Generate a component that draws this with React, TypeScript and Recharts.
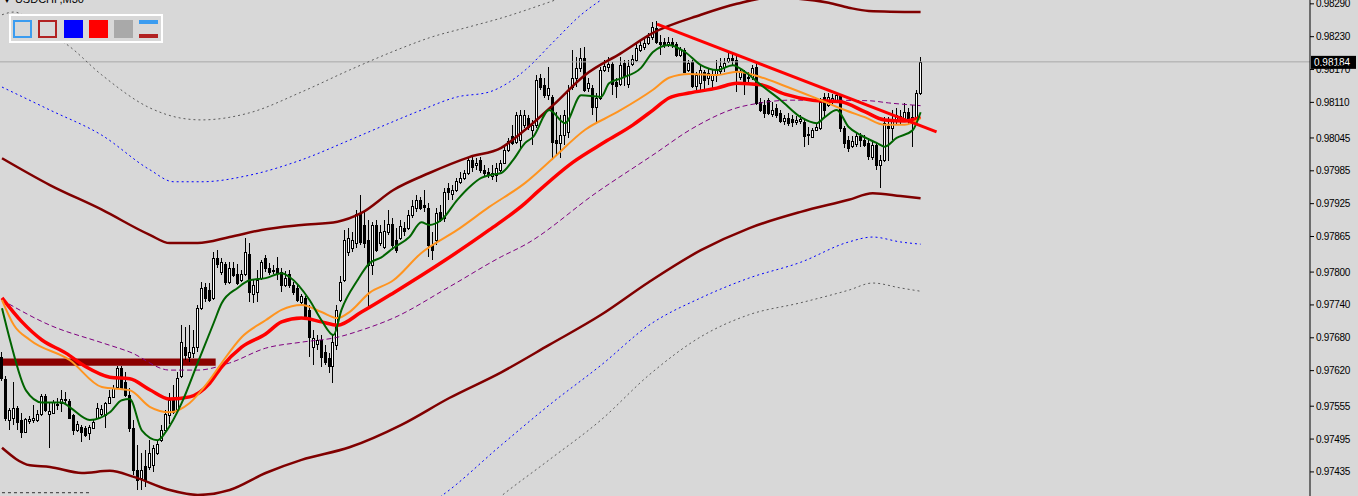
import { ComposedChart, Bar, Line, XAxis, YAxis, ReferenceLine, ReferenceArea } from 'recharts';

// Prices are kept in points above 0.97000 (1184 -> 0.98184)
const BASE = 0.97;
const BG = '#d8d8d8';

// USDCHF M30 bars, oldest first: [open, high, low, close]
const CANDLES = [
  [645, 654, 601, 606], [605, 610, 528, 533], [530, 552, 511, 548], [533, 599, 520, 552], [552, 555, 511, 526],
  [530, 542, 497, 508], [508, 533, 506, 531], [528, 537, 522, 531], [530, 557, 524, 533], [530, 548, 526, 541],
  [541, 577, 537, 573], [573, 577, 544, 548], [541, 561, 478, 546], [542, 566, 541, 562], [559, 570, 548, 557],
  [561, 584, 544, 568], [566, 581, 561, 568], [564, 568, 531, 533], [539, 541, 502, 511], [511, 528, 508, 522],
  [517, 520, 489, 508], [515, 519, 499, 502], [506, 520, 493, 517], [515, 530, 513, 526], [533, 561, 531, 552],
  [541, 557, 537, 550], [539, 562, 515, 561], [561, 584, 559, 572], [572, 594, 570, 588], [590, 628, 588, 625],
  [625, 628, 584, 588], [599, 617, 572, 575], [575, 588, 508, 515], [515, 530, 429, 438], [438, 484, 402, 420],
  [424, 469, 402, 438], [446, 475, 407, 420], [444, 493, 438, 469], [447, 484, 435, 478], [469, 493, 466, 486],
  [493, 520, 489, 511], [511, 548, 508, 541], [539, 579, 522, 566], [566, 594, 541, 544], [548, 617, 544, 606],
  [610, 703, 606, 672], [663, 700, 639, 648], [645, 703, 636, 654], [652, 694, 643, 663], [663, 740, 654, 734],
  [734, 782, 731, 771], [773, 780, 745, 753], [767, 780, 745, 749], [753, 837, 749, 826], [826, 840, 807, 815],
  [800, 826, 795, 818], [815, 818, 776, 782], [782, 818, 778, 807], [807, 818, 791, 795], [796, 815, 776, 780],
  [785, 804, 782, 796], [796, 862, 793, 837], [833, 853, 745, 763], [760, 785, 743, 776], [763, 804, 745, 785],
  [789, 822, 785, 818], [826, 831, 800, 807], [807, 816, 795, 800], [802, 813, 796, 804], [807, 827, 785, 798],
  [800, 807, 763, 776], [776, 802, 773, 789], [796, 804, 771, 776], [776, 782, 758, 763], [771, 776, 745, 749],
  [745, 760, 740, 756], [753, 756, 716, 720], [731, 740, 645, 681], [663, 694, 630, 680], [669, 685, 658, 676],
  [676, 685, 627, 645], [654, 667, 630, 636], [643, 652, 616, 628], [628, 685, 597, 672], [667, 740, 658, 731],
  [749, 793, 745, 782], [785, 877, 782, 859], [837, 880, 829, 862], [844, 873, 837, 859], [853, 913, 844, 906],
  [906, 941, 849, 855], [886, 910, 844, 853], [859, 895, 736, 813], [813, 891, 795, 886], [886, 895, 837, 840],
  [853, 886, 848, 873], [846, 895, 842, 875], [873, 913, 868, 888], [888, 899, 840, 849], [859, 880, 835, 840],
  [862, 895, 859, 884], [880, 891, 866, 875], [880, 913, 877, 904], [904, 932, 899, 921], [917, 941, 910, 932],
  [932, 937, 913, 917], [923, 950, 910, 919], [917, 926, 827, 849], [849, 873, 822, 840], [859, 917, 849, 908],
  [910, 923, 891, 895], [899, 954, 891, 946], [954, 963, 932, 946], [943, 959, 932, 950], [950, 972, 946, 966],
  [965, 983, 961, 972], [972, 986, 968, 981], [981, 1010, 977, 1005], [1005, 1014, 983, 992], [996, 1008, 986, 999],
  [1005, 1010, 981, 986], [986, 996, 975, 981], [983, 990, 972, 977], [975, 996, 968, 981], [977, 999, 965, 990],
  [986, 1005, 983, 999], [999, 1030, 997, 1023], [1023, 1045, 1019, 1039], [1049, 1069, 1032, 1036], [1038, 1092, 1034, 1087],
  [1041, 1096, 1027, 1087], [1069, 1096, 1063, 1087], [1081, 1087, 1059, 1065], [1059, 1078, 1032, 1069], [1069, 1160, 1063, 1151],
  [1154, 1162, 1133, 1138], [1142, 1154, 1118, 1123], [1123, 1175, 1114, 1136], [1120, 1123, 1005, 1038], [1041, 1092, 1014, 1036],
  [1036, 1087, 1008, 1050], [1050, 1096, 1032, 1087], [1056, 1142, 1045, 1133], [1138, 1206, 1133, 1154], [1154, 1193, 1138, 1173],
  [1173, 1209, 1166, 1191], [1191, 1211, 1129, 1133], [1136, 1154, 1129, 1145], [1136, 1142, 1087, 1102], [1102, 1127, 1072, 1118],
  [1118, 1175, 1114, 1169], [1169, 1187, 1166, 1176], [1175, 1193, 1166, 1180], [1180, 1184, 1123, 1144], [1147, 1154, 1118, 1140],
  [1144, 1193, 1140, 1178], [1182, 1187, 1140, 1158], [1144, 1187, 1136, 1176], [1180, 1197, 1176, 1189], [1187, 1217, 1184, 1209],
  [1206, 1224, 1202, 1215], [1211, 1228, 1206, 1218], [1218, 1237, 1215, 1229], [1229, 1257, 1224, 1248], [1246, 1259, 1217, 1220],
  [1220, 1233, 1197, 1217], [1220, 1228, 1209, 1217], [1217, 1229, 1211, 1220], [1220, 1228, 1209, 1215], [1217, 1220, 1193, 1197],
  [1197, 1211, 1193, 1208], [1206, 1209, 1164, 1166], [1169, 1187, 1166, 1182], [1184, 1187, 1136, 1140], [1140, 1166, 1133, 1160],
  [1145, 1178, 1133, 1169], [1166, 1169, 1133, 1151], [1154, 1173, 1142, 1164], [1151, 1169, 1136, 1162], [1160, 1187, 1147, 1169],
  [1167, 1191, 1162, 1176], [1175, 1191, 1166, 1182], [1186, 1202, 1182, 1191], [1191, 1202, 1178, 1187], [1187, 1197, 1129, 1169],
  [1156, 1173, 1151, 1167], [1166, 1169, 1123, 1145], [1154, 1166, 1147, 1156], [1156, 1178, 1151, 1173], [1175, 1182, 1105, 1109],
  [1111, 1118, 1092, 1096], [1105, 1114, 1081, 1091], [1114, 1118, 1087, 1091], [1089, 1111, 1083, 1096], [1100, 1107, 1081, 1087],
  [1091, 1096, 1072, 1076], [1076, 1087, 1069, 1081], [1081, 1091, 1067, 1072], [1080, 1087, 1065, 1074], [1074, 1085, 1069, 1078],
  [1076, 1087, 1070, 1080], [1074, 1078, 1029, 1049], [1050, 1065, 1032, 1052], [1047, 1063, 1045, 1059], [1059, 1071, 1058, 1065],
  [1063, 1118, 1059, 1111], [1120, 1127, 1081, 1096], [1105, 1127, 1102, 1120], [1111, 1125, 1107, 1118], [1114, 1129, 1109, 1123],
  [1122, 1125, 1056, 1063], [1063, 1067, 1027, 1036], [1041, 1049, 1019, 1027], [1030, 1049, 1027, 1039], [1034, 1054, 1029, 1049],
  [1049, 1054, 1029, 1041], [1041, 1050, 1029, 1032], [1036, 1045, 1005, 1012], [1010, 1038, 1005, 1032], [1032, 1038, 986, 996],
  [996, 1014, 954, 1005], [1005, 1083, 1001, 1072], [1067, 1083, 1003, 1063], [1063, 1096, 1041, 1078], [1078, 1100, 1069, 1087],
  [1085, 1096, 1069, 1081], [1078, 1109, 1074, 1092], [1092, 1100, 1069, 1081], [1081, 1105, 1029, 1083], [1083, 1133, 1078, 1127],
  [1127, 1193, 1123, 1184],
];

// Indicator lines: [bar index, points]
const MA_FAST = [
  [0, 734], [2, 676], [6, 584], [10, 562], [15, 562], [17, 553], [22, 530], [27, 544], [30, 566], [32, 568],
  [35, 511], [39, 493], [41, 508], [45, 561], [49, 634], [53, 707], [55, 743], [59, 771], [62, 785], [66, 789],
  [70, 798], [72, 791], [77, 749], [80, 712], [83, 685], [85, 731], [89, 785], [92, 816], [95, 827], [98, 844],
  [102, 864], [105, 891], [107, 886], [110, 895], [114, 932], [117, 955], [120, 972], [122, 977], [125, 981], [128, 1005],
  [131, 1036], [133, 1047], [137, 1096], [141, 1072], [145, 1123], [150, 1120], [152, 1145], [155, 1154], [160, 1173], [163, 1202],
  [167, 1215], [171, 1202], [175, 1178], [179, 1169], [183, 1178], [186, 1166], [190, 1142], [195, 1114], [200, 1083], [204, 1072],
  [206, 1083], [209, 1096], [212, 1065], [215, 1050], [219, 1036], [221, 1029], [224, 1045], [228, 1059], [230, 1092],
];
const MA_MID = [
  [0, 749], [3, 703], [7, 676], [17, 639], [25, 590], [32, 584], [37, 554], [42, 544], [47, 561], [52, 603],
  [55, 634], [60, 681], [66, 712], [70, 731], [75, 740], [80, 727], [84, 716], [87, 727], [92, 762], [98, 785],
  [105, 835], [114, 877], [122, 919], [131, 963], [138, 1008], [146, 1060], [154, 1092], [163, 1133], [167, 1155], [172, 1162],
  [179, 1160], [184, 1166], [190, 1156], [196, 1140], [203, 1120], [211, 1096], [216, 1083], [221, 1069], [226, 1069], [230, 1081],
];
const MA_SLOW = [
  [0, 753], [5, 709], [10, 676], [16, 652], [21, 627], [27, 608], [32, 605], [37, 585], [42, 568], [47, 572],
  [52, 597], [55, 627], [60, 663], [66, 687], [70, 709], [75, 716], [80, 709], [84, 703], [90, 727], [98, 762],
  [111, 822], [122, 877], [131, 926], [134, 946], [143, 1001], [151, 1038], [158, 1069], [163, 1096], [167, 1118], [172, 1127],
  [179, 1136], [184, 1145], [190, 1142], [196, 1125], [203, 1114], [210, 1111], [216, 1093], [221, 1078], [226, 1076], [230, 1083],
];
const MA_LONG = [
  [0, 749], [12, 703], [25, 671], [32, 654], [42, 621], [49, 621], [57, 634], [66, 661], [75, 672], [84, 681],
  [90, 694], [98, 716], [112, 773], [125, 828], [131, 850], [149, 946], [163, 1014], [173, 1063], [184, 1100], [190, 1109],
  [197, 1114], [205, 1114], [217, 1113], [222, 1109], [230, 1104],
];
const BAND_UP = [
  [0, 1008], [12, 959], [25, 914], [37, 868], [42, 853], [49, 853], [57, 864], [65, 877], [75, 886], [84, 892],
  [90, 908], [98, 950], [107, 981], [117, 1010], [125, 1027], [131, 1060], [138, 1105], [146, 1160], [155, 1200], [163, 1237],
  [175, 1270], [184, 1290], [192, 1301], [200, 1299], [207, 1292], [212, 1283], [217, 1277], [230, 1275],
];
const BAND_DN = [
  [0, 479], [7, 447], [12, 444], [20, 433], [27, 437], [33, 426], [42, 402], [49, 393], [57, 402], [66, 433],
  [75, 457], [87, 480], [100, 521], [112, 570], [125, 617], [137, 667], [150, 722], [162, 782], [175, 840], [187, 880],
  [200, 910], [212, 932], [218, 944], [225, 939], [230, 935],
];
const BLUE_UP = [
  [0, 1138], [12, 1096], [25, 1050], [37, 987], [43, 965], [50, 965], [62, 977], [75, 1005], [87, 1041], [97, 1072],
  [105, 1096], [114, 1120], [122, 1129], [127, 1147], [131, 1169], [138, 1220], [145, 1270], [150, 1297], [155, 1319],
];
const BLUE_DN = [
  [100, 347], [110, 391], [125, 484], [137, 557], [150, 630], [162, 703], [175, 753], [187, 789], [200, 818], [212, 855],
  [218, 864], [225, 855], [230, 851],
];
const GRAY_UP = [
  [0, 1270], [3, 1275], [10, 1242], [16, 1217], [25, 1160], [37, 1100], [45, 1081], [50, 1078], [62, 1091], [75, 1129],
  [87, 1169], [100, 1209], [107, 1228], [117, 1248], [125, 1264], [135, 1288], [142, 1306],
];
const GRAY_DN = [
  [112, 311], [125, 391], [137, 457], [150, 530], [162, 612], [175, 682], [187, 722], [200, 744], [212, 767], [218, 780],
  [225, 771], [230, 765],
];

const Y_TICKS = [1290, 1230, 1170, 1110, 1045, 985, 925, 865, 800, 740, 680, 620, 555, 495, 435];
const LAST_PRICE = 1184;
const TREND = [[164, 1253], [234, 1056]];
const ZONE_BARS = [0, 53];
const ZONE_PRICES = [629, 642];
const FLOOR_LINE = [[0, 397], [22, 397]];
const SLOTS = 328; // bars plus the empty shift on the right

const fmt = (v: number) => (BASE + v / 100000).toFixed(5);

const rows: Record<string, any>[] = Array.from({ length: SLOTS }, (_, i) => {
  const k = CANDLES[i];
  const row: Record<string, any> = { i };
  if (k) {
    row.o = k[0]; row.h = k[1]; row.l = k[2]; row.c = k[3];
    row.range = [k[2], k[1]];
  }
  return row;
});

const SERIES = [
  { key: 'grayUp', pts: GRAY_UP, stroke: '#5c5c5c', width: 1, dash: '2 3' },
  { key: 'grayDn', pts: GRAY_DN, stroke: '#5c5c5c', width: 1, dash: '2 3' },
  { key: 'blueUp', pts: BLUE_UP, stroke: '#0000ff', width: 1, dash: '2 3' },
  { key: 'blueDn', pts: BLUE_DN, stroke: '#0000ff', width: 1, dash: '2 3' },
  { key: 'bandUp', pts: BAND_UP, stroke: '#800000', width: 2.5 },
  { key: 'bandDn', pts: BAND_DN, stroke: '#800000', width: 2.5 },
  { key: 'maLong', pts: MA_LONG, stroke: '#800080', width: 1, dash: '5 3' },
];
const MAS = [
  { key: 'maSlow', pts: MA_SLOW, stroke: '#ff0000', width: 3.5 },
  { key: 'maMid', pts: MA_MID, stroke: '#ff9420', width: 2 },
  { key: 'maFast', pts: MA_FAST, stroke: '#006400', width: 2 },
];
for (const s of [...SERIES, ...MAS]) {
  for (const [i, v] of s.pts) rows[i][s.key] = v;
}

function Candle(props: any) {
  const { x, y, width, height, payload } = props;
  if (!payload || payload.o == null || height == null) return null;
  const { o, h, l, c } = payload;
  const top0 = Math.min(y, y + height);
  const hh = Math.abs(height);
  const py = (v: number) => top0 + ((h - v) / (h - l || 1)) * hh;
  const left = Math.round(x + width / 2 - 1.5);
  const top = Math.round(py(Math.max(o, c)));
  const bot = Math.round(py(Math.min(o, c)));
  return (
    <g>
      <line x1={left + 1.5} x2={left + 1.5} y1={Math.round(top0)} y2={Math.round(top0 + hh)} stroke="#000" />
      {bot - top < 1 ? (
        <line x1={left} x2={left + 3} y1={top + 0.5} y2={top + 0.5} stroke="#000" />
      ) : (
        <rect x={left + 0.5} y={top + 0.5} width={2} height={bot - top} fill={c >= o ? '#fff' : '#000'} stroke="#000" />
      )}
    </g>
  );
}

function PriceTag(props: any) {
  const vb = props.viewBox;
  if (!vb) return null;
  const x = vb.x + vb.width + 1;
  return (
    <g>
      <rect x={x} y={vb.y - 6} width={45} height={13} fill="#000" />
      <text x={x + 3} y={vb.y + 4} fill="#fff" fontSize={10} fontFamily="Liberation Sans, Arial, sans-serif">
        {fmt(LAST_PRICE)}
      </text>
    </g>
  );
}

const swatch = (extra: React.CSSProperties): React.CSSProperties => ({
  position: 'absolute', top: 4, width: 19, height: 18, boxSizing: 'border-box', ...extra,
});

export default function App() {
  return (
    <div style={{ position: 'relative', width: 1358, height: 496, background: BG, overflow: 'hidden', fontFamily: 'Liberation Sans, Arial, sans-serif' }}>
      <style>{'body{margin:0}'}</style>
      <ComposedChart width={1358} height={496} data={rows} margin={{ top: 0, right: 0, bottom: 0, left: 0 }} barSize={3}>
        <XAxis dataKey="i" hide />
        <YAxis
          orientation="right"
          width={48}
          type="number"
          domain={[391, 1297]}
          allowDataOverflow
          ticks={Y_TICKS}
          interval={0}
          tickFormatter={fmt}
          tickSize={4}
          axisLine={{ stroke: '#000' }}
          tickLine={{ stroke: '#000' }}
          tick={{ fill: '#000', fontSize: 10, letterSpacing: -0.3, fontFamily: 'Liberation Sans, Arial, sans-serif' }}
        />
        <ReferenceArea
          x1={ZONE_BARS[0]} x2={ZONE_BARS[1]} y1={ZONE_PRICES[0]} y2={ZONE_PRICES[1]}
          fill="#8b0000" fillOpacity={1} stroke="none"
        />
        <ReferenceLine
          segment={[{ x: FLOOR_LINE[0][0], y: FLOOR_LINE[0][1] }, { x: FLOOR_LINE[1][0], y: FLOOR_LINE[1][1] }]}
          stroke="#333" strokeDasharray="3 3"
        />
        <ReferenceLine y={LAST_PRICE} stroke="#a8a8a8" label={PriceTag} />
        {SERIES.map((s) => (
          <Line
            key={s.key} dataKey={s.key} type="monotone" stroke={s.stroke} strokeWidth={s.width}
            strokeDasharray={s.dash} dot={false} activeDot={false} connectNulls isAnimationActive={false}
          />
        ))}
        <Bar dataKey="range" shape={(p: any) => <Candle {...p} />} isAnimationActive={false} />
        {MAS.map((s) => (
          <Line
            key={s.key} dataKey={s.key} type="monotone" stroke={s.stroke} strokeWidth={s.width}
            dot={false} activeDot={false} connectNulls isAnimationActive={false}
          />
        ))}
        <ReferenceLine
          segment={[{ x: TREND[0][0], y: TREND[0][1] }, { x: TREND[1][0], y: TREND[1][1] }]}
          stroke="#ff0000" strokeWidth={3}
        />
      </ComposedChart>

      <div style={{ position: 'absolute', left: 3, top: -7, fontSize: 11, color: '#000', whiteSpace: 'nowrap' }}>
        <span style={{ fontSize: 8, marginRight: 4 }}>▼</span>USDCHF,M30
      </div>

      <div style={{ position: 'absolute', left: 9, top: 14, width: 154, height: 29, boxSizing: 'border-box', border: '2px solid #fff', background: BG }}>
        <div style={swatch({ left: 2, border: '2px solid #3b9cf0' })} />
        <div style={swatch({ left: 27, border: '2px solid #b22222' })} />
        <div style={swatch({ left: 53, background: '#0000ff' })} />
        <div style={swatch({ left: 78, background: '#ff0000' })} />
        <div style={swatch({ left: 103, background: '#a9a9a9' })} />
        <div style={{ position: 'absolute', left: 128, top: 4, width: 19, height: 4, background: '#3b9cf0' }} />
        <div style={{ position: 'absolute', left: 128, top: 18, width: 19, height: 4, background: '#b22222' }} />
      </div>
    </div>
  );
}
